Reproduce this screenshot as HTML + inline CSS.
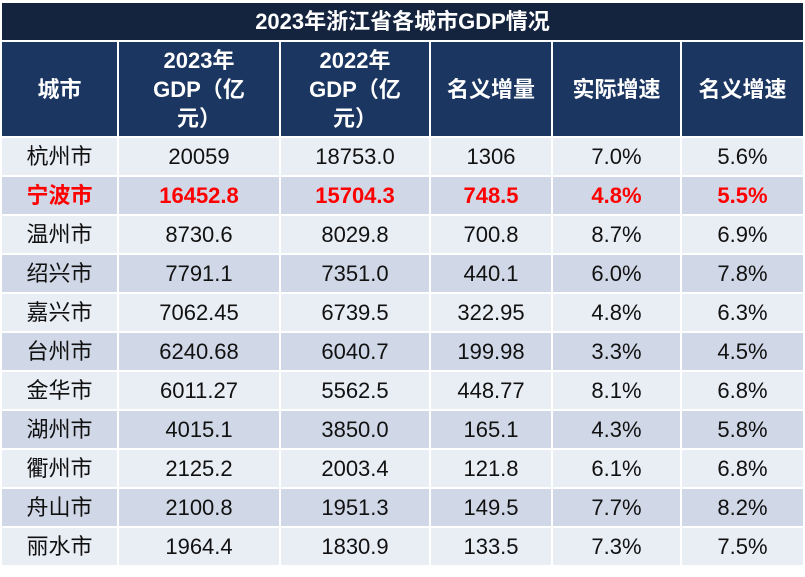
<!DOCTYPE html>
<html><head><meta charset="utf-8"><style>
body{margin:0;width:805px;height:577px;background:#fff;position:relative;overflow:hidden;font-family:"Liberation Sans","Noto Sans CJK SC",sans-serif}
.t{position:absolute;left:2px;top:3px;width:801px;height:37px;background:#14243f;color:#fff;font-weight:bold;font-size:22px;text-align:center;line-height:37px}
table{position:absolute;left:2px;top:42px;border-collapse:collapse;table-layout:fixed;width:801px}
td{border:2px solid #fff;text-align:center;padding:0;font-size:22px;color:#111;height:37px;line-height:37px}
tr.h td{background:#1b3660;color:#fff;font-weight:bold;height:94px;line-height:29px;border-top:0}
tr:nth-child(even) td{background:#e9edf4}
tr:nth-child(odd):not(.h) td{background:#d0d7e6}
tr.r td{color:#f00;font-weight:bold}
td:first-child{border-left:0}td:last-child{border-right:0}
</style></head><body>
<div class="t">2023年浙江省各城市GDP情况</div>
<table>
<colgroup><col style="width:116px"><col style="width:162px"><col style="width:150px"><col style="width:122px"><col style="width:129px"><col style="width:122px"></colgroup>
<tr class="h"><td>城市</td><td>2023年<br>GDP（亿<br>元）</td><td>2022年<br>GDP（亿<br>元）</td><td>名义增量</td><td>实际增速</td><td>名义增速</td></tr>
<tr><td>杭州市</td><td>20059</td><td>18753.0</td><td>1306</td><td>7.0%</td><td>5.6%</td></tr>
<tr class="r"><td>宁波市</td><td>16452.8</td><td>15704.3</td><td>748.5</td><td>4.8%</td><td>5.5%</td></tr>
<tr><td>温州市</td><td>8730.6</td><td>8029.8</td><td>700.8</td><td>8.7%</td><td>6.9%</td></tr>
<tr><td>绍兴市</td><td>7791.1</td><td>7351.0</td><td>440.1</td><td>6.0%</td><td>7.8%</td></tr>
<tr><td>嘉兴市</td><td>7062.45</td><td>6739.5</td><td>322.95</td><td>4.8%</td><td>6.3%</td></tr>
<tr><td>台州市</td><td>6240.68</td><td>6040.7</td><td>199.98</td><td>3.3%</td><td>4.5%</td></tr>
<tr><td>金华市</td><td>6011.27</td><td>5562.5</td><td>448.77</td><td>8.1%</td><td>6.8%</td></tr>
<tr><td>湖州市</td><td>4015.1</td><td>3850.0</td><td>165.1</td><td>4.3%</td><td>5.8%</td></tr>
<tr><td>衢州市</td><td>2125.2</td><td>2003.4</td><td>121.8</td><td>6.1%</td><td>6.8%</td></tr>
<tr><td>舟山市</td><td>2100.8</td><td>1951.3</td><td>149.5</td><td>7.7%</td><td>8.2%</td></tr>
<tr><td>丽水市</td><td>1964.4</td><td>1830.9</td><td>133.5</td><td>7.3%</td><td>7.5%</td></tr>
</table>
</body></html>
